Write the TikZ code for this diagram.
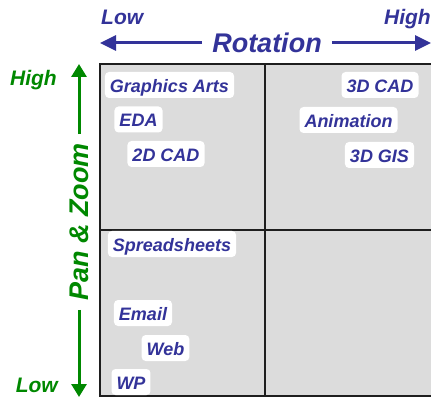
\documentclass[tikz,border=0pt]{standalone}
\usepackage{fontspec}
\setmainfont{Liberation Sans}
\usetikzlibrary{arrows.meta}
\definecolor{lblue}{RGB}{51,51,153}
\definecolor{lgreen}{RGB}{0,136,0}
\definecolor{cellgray}{RGB}{220,220,220}
\definecolor{gridline}{RGB}{30,30,30}
\begin{document}
\begin{tikzpicture}[x=1pt,y=-1pt,
  app/.style={fill=white,rounded corners=4pt,text=lblue,font=\fontsize{18}{18}\selectfont\bfseries\itshape,
    text height=17.5pt,text depth=2.5pt,inner ysep=3pt,inner xsep=5pt},
  axlbl/.style={font=\fontsize{21}{21}\selectfont\bfseries\itshape,inner sep=0pt},
  axtitle/.style={font=\fontsize{27}{27}\selectfont\bfseries\itshape,inner sep=0pt},
  hline/.style={lblue,line width=3pt,-{Triangle[length=16pt,width=15pt]}},
  vline/.style={lgreen,line width=3pt,-{Triangle[length=13pt,width=15pt]}},
  grid/.style={gridline,line width=1.3pt}]
\useasboundingbox (0,0) rectangle (431,398);
% grid
\fill[cellgray] (100,64) rectangle (440,396);
\draw[grid] (440,64) -- (100,64) -- (100,396) -- (440,396);
\draw[grid] (265,64) -- (265,396);
\draw[grid] (100,230) -- (440,230);
% top axis
\node[axlbl,text=lblue,anchor=base west] (lowr) at (101,25) {Low};
\node[axlbl,text=lblue,anchor=base east] (highr) at (431,25) {High};
\node[axtitle,text=lblue,anchor=base,inner xsep=10pt] (rot) at (267,53) {Rotation};
\coordinate (ltip) at (100,43);
\coordinate (rtip) at (431,43);
\draw[hline] (rot.west |- ltip) -- (ltip);
\draw[hline] (rot.east |- rtip) -- (rtip);
% left axis
\node[axlbl,text=lgreen,anchor=base east] (highp) at (57,86) {High};
\node[axlbl,text=lgreen,anchor=base east] (lowp) at (58,392) {Low};
\node[axtitle,text=lgreen,rotate=90,inner xsep=9pt] (pz) at (79,222) {Pan \& Zoom};
\coordinate (ttip) at (79,64);
\coordinate (btip) at (79,397);
\draw[vline] (pz.east) -- (ttip);
\draw[vline] (pz.west) -- (btip);
% apps
\node[app] (ga) at (169.5,85) {Graphics Arts};
\node[app] (eda) at (138.5,119.5) {EDA};
\node[app] (cad2) at (166,154) {2D CAD};
\node[app] (cad3) at (380,85) {3D CAD};
\node[app] (anim) at (348.5,120) {Animation};
\node[app] (gis) at (379.5,155) {3D GIS};
\node[app] (ss) at (172,244) {Spreadsheets};
\node[app] (email) at (143,313) {Email};
\node[app] (web) at (165.5,348) {Web};
\node[app] (wp) at (131,382) {WP};
\end{tikzpicture}
\end{document}
